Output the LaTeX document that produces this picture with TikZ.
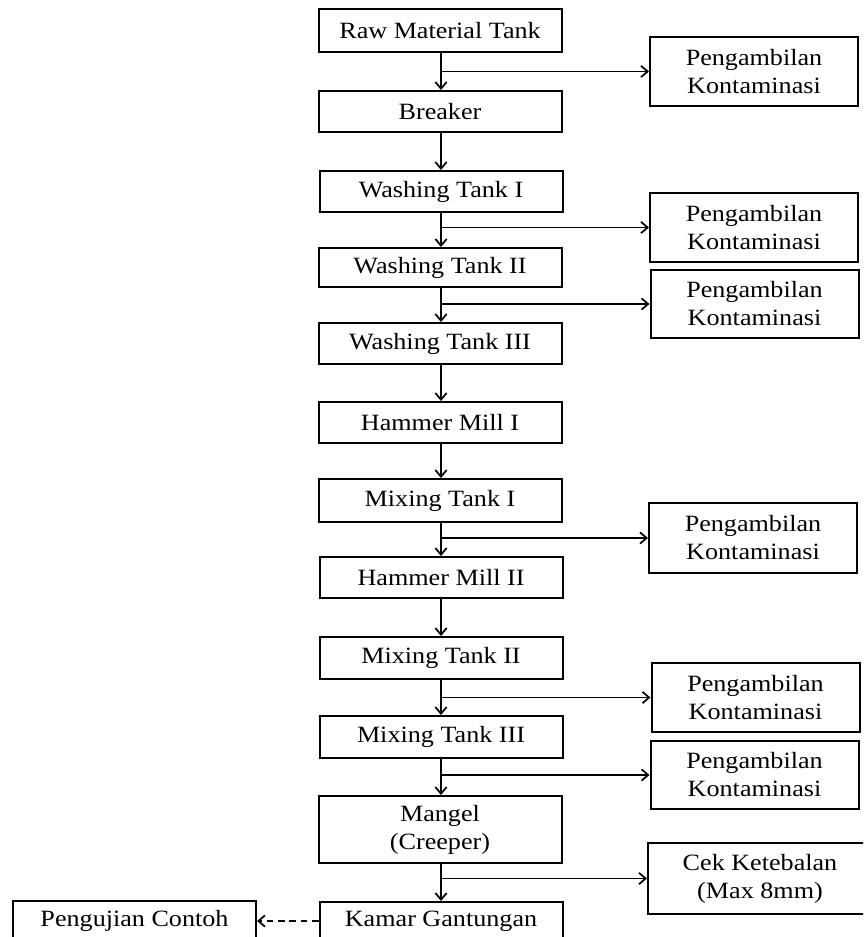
\documentclass[tikz,border=0pt]{standalone}
\usepackage{fontspec}
\setmainfont{Liberation Serif}[FakeStretch=1.12]
\usetikzlibrary{arrows.meta}
\begin{document}
\begin{tikzpicture}[x=0.75pt,y=-0.75pt,
  every node/.style={font=\fontsize{17.5}{21}\selectfont, align=center, inner sep=0pt},
  mainbox/.style={draw, line width=1.5pt, minimum width=182.25pt},
  sidebox/.style={draw, line width=1.5pt, minimum width=156pt, minimum height=51.75pt},
  flow/.style={line width=1.3pt, -{Straight Barb[length=5pt,width=8.5pt]}},
  dashflow/.style={flow, dash pattern=on 5pt off 3.5pt},
]
\clip (0,0) rectangle (863,937);
\fill[white] (0,0) rectangle (863,937);
\coordinate (ax) at (441,0);

% main column
\node[mainbox, minimum height=32.25pt] (raw)     at (440,30.5)  {Raw Material Tank};
\node[mainbox, minimum height=30.75pt] (breaker) at (440,111.5) {Breaker};
\node[mainbox, minimum height=30.75pt] (wash1)   at (441,191.5) {Washing Tank I};
\node[mainbox, minimum height=29.25pt] (wash2)   at (440,267.5) {Washing Tank II};
\node[mainbox, minimum height=30.75pt] (wash3)   at (440,343.5) {Washing Tank III};
\node[mainbox, minimum height=30.75pt] (hm1)     at (440,422.5) {Hammer Mill I};
\node[mainbox, minimum height=32.25pt] (mix1)    at (440,500.5) {Mixing Tank I};
\node[mainbox, minimum height=30.75pt] (hm2)     at (441,577.5) {Hammer Mill II};
\node[mainbox, minimum height=31.5pt]  (mix2)    at (441,658)   {Mixing Tank II};
\node[mainbox, minimum height=31.5pt]  (mix3)    at (441,737)   {Mixing Tank III};
\node[mainbox, minimum height=50.25pt] (mangel)  at (440,829.5) {Mangel\\(Creeper)};
\node[mainbox, minimum height=28.5pt]  (kamar)   at (441,921)   {Kamar Gantungan};
\node[mainbox, minimum height=30pt]    (uji)     at (134.5,921) {Pengujian Contoh};

% side boxes
\node[sidebox] (p1) at (754,71.5)  {Pengambilan\\Kontaminasi};
\node[sidebox] (p2) at (754,227.5) {Pengambilan\\Kontaminasi};
\node[sidebox, minimum height=51pt]   (p3) at (754.5,304) {Pengambilan\\Kontaminasi};
\node[sidebox, minimum height=52.5pt] (p4) at (753,538)   {Pengambilan\\Kontaminasi};
\node[sidebox] (p5) at (755.5,697.5) {Pengambilan\\Kontaminasi};
\node[sidebox, minimum height=51pt]   (p6) at (754.5,775) {Pengambilan\\Kontaminasi};
\node[sidebox, minimum width=168pt, minimum height=53.25pt] (cek) at (760,878.5) {Cek Ketebalan\\(Max 8mm)};

% vertical flow
\foreach \a/\b in {raw/breaker, breaker/wash1, wash1/wash2, wash2/wash3, wash3/hm1,
                   hm1/mix1, mix1/hm2, hm2/mix2, mix2/mix3, mix3/mangel, mangel/kamar}
  \draw[flow] (\a.south -| ax) -- (\b.north -| ax);

% branches
\foreach \p in {p1,p2,p3,p4,p5,p6,cek}
  \draw[flow] (ax |- \p.west) -- (\p.west);

% dashed
\draw[dashflow] (kamar.west) -- (uji.east);
\end{tikzpicture}
\end{document}
